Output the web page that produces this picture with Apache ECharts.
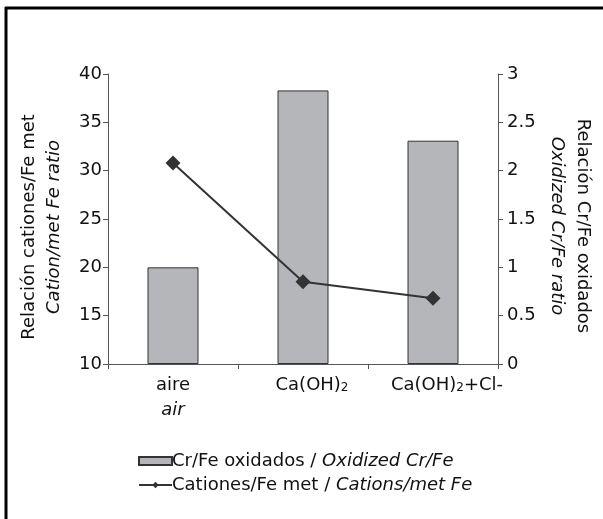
<!DOCTYPE html>
<html><head><meta charset="utf-8">
<script src="https://cdn.jsdelivr.net/npm/echarts@6/dist/echarts.min.js"></script>
<style>html,body{margin:0;padding:0;background:#fff}#c{width:603px;height:519px}</style>
</head><body><div id="c"></div>
<script>
var categories = ['aire', 'Ca(OH)2', 'Ca(OH)2+Cl-'];
var crFeOxidized = [1.0, 2.83, 2.31];
var cationsMetFe = [30.8, 18.5, 16.8];
var leftTicks = {min: 10, max: 40, interval: 5};
var rightTicks = {min: 0, max: 3, interval: 0.5};
var barName = 'Cr/Fe oxidados / Oxidized Cr/Fe';
var lineName = 'Cationes/Fe met / Cations/met Fe';

var FONT = 'DejaVu Sans';
var FS = 18;
var chart = echarts.init(document.getElementById('c'));
var axisCol = '#555';
chart.setOption({
  animation: false,
  backgroundColor: '#fff',
  grid: {left: 108, right: 105, top: 74, bottom: 155},
  legend: {
    orient: 'vertical', left: 133, top: 447, itemWidth: 33, itemHeight: 8, itemGap: 6,
    data: [{name: barName, icon: 'rect'}, {name: lineName}],
    formatter: function (n) {
      var p = n.split(' / ');
      return '{n|' + p[0] + ' / }{i|' + p[1] + '}';
    },
    textStyle: {
      fontFamily: FONT, fontSize: FS, color: '#111', padding: [0, 0, 0, -5],
      rich: {
        n: {fontFamily: FONT, fontSize: FS, color: '#111'},
        i: {fontFamily: FONT, fontSize: FS, fontStyle: 'italic', color: '#111'}
      }
    }
  },
  xAxis: {
    type: 'category', data: categories, boundaryGap: true,
    axisLine: {lineStyle: {color: axisCol, width: 1}},
    axisTick: {show: true, length: 5, lineStyle: {color: axisCol}},
    axisLabel: {
      margin: 9, interval: 0,
      formatter: function (v) {
        if (v === 'aire') return '{n|aire}\n{i|air}';
        if (v === 'Ca(OH)2') return '{p|}{n|Ca(OH)}{s|2}';
        return '{q|}{n|Ca(OH)}{s|2}{n|+Cl-}';
      },
      rich: {
        n: {fontFamily: FONT, fontSize: FS, color: '#111', lineHeight: 25},
        i: {fontFamily: FONT, fontSize: FS, fontStyle: 'italic', color: '#111', lineHeight: 25},
        s: {fontFamily: FONT, fontSize: 12, color: '#111', verticalAlign: 'middle', lineHeight: 25, padding: [5, 0, 0, 0]},
        p: {width: 18},
        q: {width: 28}
      }
    }
  },
  yAxis: [
    {
      type: 'value', min: leftTicks.min, max: leftTicks.max, interval: leftTicks.interval,
      position: 'left',
      axisLine: {show: true, lineStyle: {color: axisCol}},
      axisTick: {show: true, length: 5, lineStyle: {color: axisCol}},
      splitLine: {show: false},
      axisLabel: {fontFamily: FONT, fontSize: FS, color: '#111', margin: 6}
    },
    {
      type: 'value', min: rightTicks.min, max: rightTicks.max, interval: rightTicks.interval,
      position: 'right',
      axisLine: {show: true, lineStyle: {color: axisCol}},
      axisTick: {show: true, length: 5, lineStyle: {color: axisCol}},
      splitLine: {show: false},
      axisLabel: {fontFamily: FONT, fontSize: FS, color: '#111', margin: 9}
    }
  ],
  series: [
    {
      name: barName, type: 'bar', yAxisIndex: 1, data: crFeOxidized, barWidth: 51,
      itemStyle: {color: '#b5b6ba', borderColor: '#333', borderWidth: 1}
    },
    {
      name: lineName, type: 'line', yAxisIndex: 0, data: cationsMetFe,
      symbol: 'diamond', symbolSize: 15,
      lineStyle: {color: '#333', width: 2},
      itemStyle: {color: '#333'}
    }
  ],
  graphic: [
    {type: 'line', shape: {x1: 5, y1: 8, x2: 603, y2: 8}, style: {stroke: '#000', lineWidth: 3}},
    {type: 'line', shape: {x1: 6, y1: 7, x2: 6, y2: 519}, style: {stroke: '#000', lineWidth: 3}},
    {type: 'text', x: 29, y: 227, rotation: Math.PI / 2,
      style: {text: 'Relación cationes/Fe met', font: FS + 'px "DejaVu Sans"', fill: '#111', textAlign: 'center', textVerticalAlign: 'middle'}},
    {type: 'text', x: 54, y: 227, rotation: Math.PI / 2,
      style: {text: 'Cation/met Fe ratio', font: 'italic ' + FS + 'px "DejaVu Sans"', fill: '#111', textAlign: 'center', textVerticalAlign: 'middle'}},
    {type: 'text', x: 583, y: 226, rotation: -Math.PI / 2,
      style: {text: 'Relación Cr/Fe oxidados', font: FS + 'px "DejaVu Sans"', fill: '#111', textAlign: 'center', textVerticalAlign: 'middle'}},
    {type: 'text', x: 557, y: 226, rotation: -Math.PI / 2,
      style: {text: 'Oxidized Cr/Fe ratio', font: 'italic ' + FS + 'px "DejaVu Sans"', fill: '#111', textAlign: 'center', textVerticalAlign: 'middle'}}
  ]
});
</script></body></html>
